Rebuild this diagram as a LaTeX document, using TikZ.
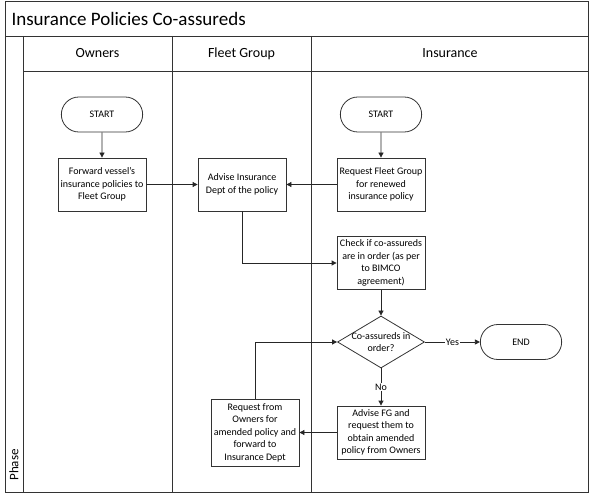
\documentclass[tikz,border=0pt]{standalone}
\usepackage{fontspec}
\setmainfont{Carlito}
\usetikzlibrary{positioning,calc,arrows.meta,shapes}

\tikzset{
  lane/.style={line width=0.9pt, draw=black!80},
  process/.style={draw=black!80, line width=0.8pt, rectangle, minimum width=88pt, minimum height=53pt,
    align=center, inner sep=1pt, font=\fontsize{10}{12.5}\selectfont},
  terminal/.style={draw=black!80, line width=0.8pt, rounded rectangle, minimum width=88pt, minimum height=35pt,
    font=\fontsize{10}{12.5}\selectfont},
  decision/.style={draw=black!80, line width=0.8pt, diamond, minimum width=87pt, minimum height=52pt, inner sep=0pt},
  flow/.style={line width=0.8pt, draw=black!85, -{Triangle[length=5pt,width=5pt]}},
  lbl/.style={fill=white, inner sep=1pt, font=\fontsize{10}{12.5}\selectfont}
}

\begin{document}
\begin{tikzpicture}[x=1pt,y=-1pt]
		\useasboundingbox (0,0) rectangle (592,497);
		
		% pool and lanes
		\draw[lane] (5,1) rectangle (588,492);
		\draw[lane] (5,36) -- (588,36);
		\draw[lane] (23,71) -- (588,71);
		\draw[lane] (23,36) -- (23,492);
		\draw[lane] (172,36) -- (172,492);
		\draw[lane] (311,36) -- (311,492);
		
		\node[anchor=west, font=\fontsize{19}{22}\selectfont] (title) at (8,19) {Insurance Policies Co-assureds};
		\node[font=\fontsize{14}{16}\selectfont] (owners) at (97.5,53.5) {Owners};
		\node[font=\fontsize{14}{16}\selectfont] (fleet) at (241.5,53.5) {Fleet Group};
		\node[font=\fontsize{14}{16}\selectfont] (insur) at (450,53.5) {Insurance};
		\node[rotate=90, font=\fontsize{13}{15}\selectfont] (phase) at (14,465) {Phase};
		
		% steps
		\node[terminal] (start1) at (102,114.5) {START};
		\node[process] (fwd) at (102,184.5) {Forward vessel's\\insurance policies to\\Fleet Group};
		\node[process] (adv) at (242,184.5) {Advise Insurance\\Dept of the policy};
		\node[terminal] (start2) at (381,114.5) {START};
		\node[process] (req) at (381,184.5) {Request Fleet Group\\for renewed\\insurance policy};
		\node[process] (check) at (381,263) {Check if co-assureds\\are in order (as per\\to BIMCO\\agreement)};
		\node[decision] (dec) at (381,342) {};
		\node[font=\fontsize{10}{12.5}\selectfont, align=center] (dectxt) at (dec) {Co-assureds in\\order?};
		\node[terminal] (end) at (521,342) {END};
		\node[process] (advfg) at (381,432.5) {Advise FG and\\request them to\\obtain amended\\policy from Owners};
		\node[process, minimum height=67pt] (reqown) at (255,432.5) {Request from\\Owners for\\amended policy and\\forward to\\Insurance Dept};
		
		% connectors
		\draw[flow] (start1) -- (fwd);
		\draw[flow] (fwd) -- (adv);
		\draw[flow] (start2) -- (req);
		\draw[flow] (req) -- (adv);
		\draw[flow] (adv.south) |- (check.west);
		\draw[flow] (check) -- (dec);
		\draw[flow] (dec) -- node[lbl] {Yes} (end);
		\draw[flow] (dec) -- node[lbl] {No} (advfg);
		\draw[flow] (advfg) -- (reqown);
		\draw[flow] (reqown.north) |- (dec.west);
	\end{tikzpicture}
\end{document}
